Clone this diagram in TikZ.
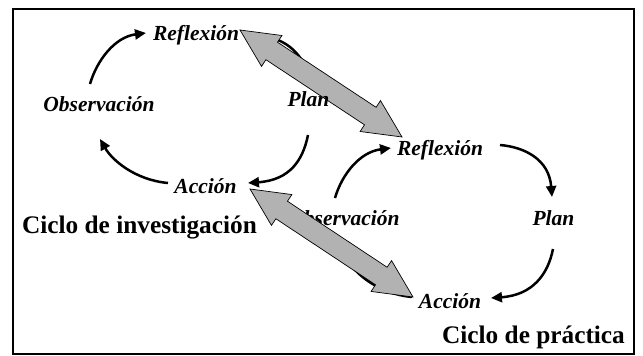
\documentclass[tikz,border=0pt]{standalone}
\usepackage{fontspec}
\setmainfont{Liberation Serif}
\usetikzlibrary{arrows.meta,calc}

\definecolor{linkgray}{RGB}{178,178,178}

% drawing order: cycle arrows, upper link, labels, lower link
\pgfdeclarelayer{cyclearrows}
\pgfdeclarelayer{upperlink}
\pgfdeclarelayer{lowerlink}
\pgfsetlayers{cyclearrows,upperlink,main,lowerlink}

% wide double-headed arrow between two named tips
\newcommand\wideLink[2]{%
  \coordinate (#1-h) at ($(#1)!38pt!(#2)$);
  \coordinate (#2-h) at ($(#2)!38pt!(#1)$);
  \filldraw[widelink] (#1)
    -- ($(#1-h)!18.5pt!90:(#2)$) -- ($(#1-h)!10.5pt!90:(#2)$)
    -- ($(#2-h)!10.5pt!-90:(#1)$) -- ($(#2-h)!18.5pt!-90:(#1)$)
    -- (#2)
    -- ($(#2-h)!18.5pt!90:(#1)$) -- ($(#2-h)!10.5pt!90:(#1)$)
    -- ($(#1-h)!10.5pt!-90:(#2)$) -- ($(#1-h)!18.5pt!-90:(#2)$)
    -- cycle;}

\begin{document}
\begin{tikzpicture}[x=1pt,y=-1pt,
  stage/.style={inner sep=0pt,anchor=base,
    font=\fontsize{21.5}{21.5}\selectfont\bfseries\itshape},
  cycletitle/.style={inner sep=0pt,anchor=base,
    font=\fontsize{25.3}{25.3}\selectfont\bfseries},
  cyc/.style={line width=2.5pt,-{Triangle[length=11pt,width=10pt]}},
  widelink/.style={fill=linkgray,draw=black,line width=0.7pt,line join=miter}]

\useasboundingbox (0,0) rectangle (643,356);
\draw[line width=1.3pt] (13,9) rectangle (634,354);

% research cycle
\node[stage] (Lrefl) at (196,40) {Reflexión};
\node[stage] (Lobs)  at (99,111.5) {Observación};
\node[stage] (Lplan) at (308.5,106) {Plan};
\node[stage] (Lacc)  at (205.5,193) {Acción};

% practice cycle
\node[stage] (Rrefl) at (440,155) {Reflexión};
\node[stage] (Robs)  at (344,225) {Observación};
\node[stage] (Rplan) at (553.5,225) {Plan};
\node[stage] (Racc)  at (450,308) {Acción};

% titles
\node[cycletitle] (Ltitle) at (139.5,233) {Ciclo de investigación};
\node[cycletitle] (Rtitle) at (533.5,343) {Ciclo de práctica};

\begin{pgfonlayer}{cyclearrows}
\draw[cyc] ([shift={(-9,-27.5)}]Lobs.base) .. controls +(7,-24) and +(-31,4) .. ([shift={(-50,-7)}]Lrefl.base);
\draw[cyc] ([shift={(62,-4)}]Lrefl.base) .. controls +(24,0) and +(-5,-30) .. ([shift={(-0.5,-23)}]Lplan.base);
\draw[cyc] ([shift={(-0.5,29)}]Lplan.base) .. controls +(-5,25) and +(42,-3) .. ([shift={(42.5,-10)}]Lacc.base);
\draw[cyc] ([shift={(-37.5,-10)}]Lacc.base) .. controls +(-33,-3) and +(12,21) .. ([shift={(1,27.5)}]Lobs.base);

\draw[cyc] ([shift={(-9,-27)}]Robs.base) .. controls +(7,-24) and +(-31,4) .. ([shift={(-49,-7)}]Rrefl.base);
\draw[cyc] ([shift={(60,-10)}]Rrefl.base) .. controls +(24,2) and +(-3,-38) .. ([shift={(-1.5,-28)}]Rplan.base);
\draw[cyc] ([shift={(-0.5,24)}]Rplan.base) .. controls +(-5,25) and +(42,-3) .. ([shift={(41,-10)}]Racc.base);
\draw[cyc] ([shift={(-38,-11)}]Racc.base) .. controls +(-33,-3) and +(12,21) .. ([shift={(0,28)}]Robs.base);
\end{pgfonlayer}

% links between the two cycles
\coordinate (t1a) at ([shift={(44,-10)}]Lrefl.base);
\coordinate (t1b) at ([shift={(-38,-18)}]Rrefl.base);
\coordinate (t2a) at ([shift={(44.5,-4)}]Lacc.base);
\coordinate (t2b) at ([shift={(-37,-11)}]Racc.base);
\begin{pgfonlayer}{upperlink}
\wideLink{t1a}{t1b}
\end{pgfonlayer}
\begin{pgfonlayer}{lowerlink}
\wideLink{t2a}{t2b}
\end{pgfonlayer}
\end{tikzpicture}
\end{document}
